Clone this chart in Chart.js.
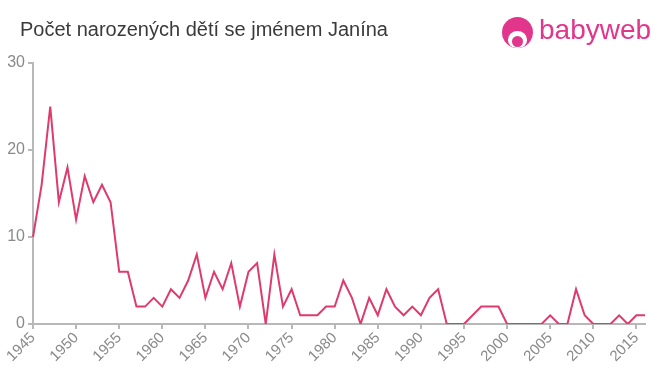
<!DOCTYPE html>
<html>
<head>
<meta charset="utf-8">
<script src="https://cdn.jsdelivr.net/npm/chart.js@4.4.1/dist/chart.umd.min.js"></script>
<style>
  html, body { margin: 0; padding: 0; background: #fff; }
  #wrap { position: relative; width: 660px; height: 375px; overflow: hidden; }
  #c { position: absolute; left: 0; top: 0; }
  #title { position: absolute; left: 20px; top: 18px; font-family: "Liberation Sans", Arial, sans-serif; font-size: 20px; color: #3a3a3a; white-space: nowrap; }
  #logo { position: absolute; left: 502px; top: 16px; height: 34px; }
  #logo .head { position: absolute; left: 0; top: 1px; width: 31px; height: 31px; border-radius: 50%; background: #e2358c; overflow: hidden; }
  #logo .face { position: absolute; left: 6px; top: 14px; width: 19px; height: 17px; border-radius: 50% 50% 45% 45%; background: #fff; }
  #logo .dot { position: absolute; left: 10px; top: 19px; width: 11px; height: 11px; border-radius: 50%; background: #e2358c; }
  #logo .txt { position: absolute; left: 37px; top: -2px; font-family: "Liberation Sans", Arial, sans-serif; font-size: 28px; color: #e2358c; white-space: nowrap; }
</style>
</head>
<body>
<div id="wrap">
  <canvas id="c" width="660" height="375"></canvas>
  <div id="title">Počet narozených dětí se jménem Janína</div>
  <div id="logo"><div class="head"><div class="face"></div><div class="dot"></div></div><div class="txt">babyweb</div></div>
</div>
<script>
const years = [1945,1946,1947,1948,1949,1950,1951,1952,1953,1954,1955,1956,1957,1958,1959,1960,1961,1962,1963,1964,1965,1966,1967,1968,1969,1970,1971,1972,1973,1974,1975,1976,1977,1978,1979,1980,1981,1982,1983,1984,1985,1986,1987,1988,1989,1990,1991,1992,1993,1994,1995,1996,1997,1998,1999,2000,2001,2002,2003,2004,2005,2006,2007,2008,2009,2010,2011,2012,2013,2014,2015,2016];
const births = [10,16,25,14,18,12,17,14,16,14,6,6,2,2,3,2,4,3,5,8,3,6,4,7,2,6,7,0,8,2,4,1,1,1,2,2,5,3,0,3,1,4,2,1,2,1,3,4,0,0,0,1,2,2,2,0,0,0,0,0,1,0,0,4,1,0,0,0,1,0,1,1];
const yTicks = [0,10,20,30];

const axisColor = '#b8b8b8';
const labelColor = '#8a8a8a';

new Chart(document.getElementById('c'), {
  type: 'line',
  data: {
    labels: years.map(String),
    datasets: [{
      data: births,
      borderColor: '#df3a6e',
      borderWidth: 2,
      pointRadius: 0,
      pointHoverRadius: 0,
      fill: false,
      tension: 0
    }]
  },
  options: {
    responsive: false,
    animation: false,
    events: [],
    layout: { padding: { left: 0, right: 15, top: 63, bottom: 0 } },
    plugins: { legend: { display: false }, tooltip: { enabled: false }, title: { display: false } },
    scales: {
      x: {
        type: 'category',
        offset: false,
        grid: { drawOnChartArea: false, drawTicks: true, tickLength: 5, color: axisColor, lineWidth: 2 },
        border: { color: axisColor, width: 2 },
        ticks: {
          autoSkip: false,
          minRotation: 45,
          maxRotation: 45,
          padding: 0,
          color: labelColor,
          font: { family: '"Liberation Sans", Arial, sans-serif', size: 15 },
          callback: function(val, idx) {
            const y = years[idx];
            return (y % 5 === 0) ? String(y) : null;
          }
        },
        afterFit: function(s) { s.height = 51; }
      },
      y: {
        min: 0,
        max: 30,
        afterBuildTicks: function(s) { s.ticks = yTicks.map(v => ({ value: v })); },
        grid: { drawOnChartArea: false, drawTicks: true, tickLength: 5, color: axisColor, lineWidth: 2 },
        border: { color: axisColor, width: 2 },
        ticks: {
          padding: 3,
          color: labelColor,
          font: { family: '"Liberation Sans", Arial, sans-serif', size: 16 }
        },
        afterFit: function(s) { s.width = 33; }
      }
    }
  }
});
</script>
</body>
</html>
